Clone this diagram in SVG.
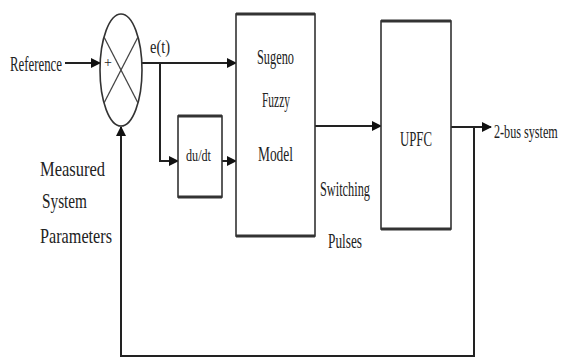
<svg xmlns="http://www.w3.org/2000/svg" width="564" height="360" viewBox="0 0 564 360">
<style>
.ln{stroke:#222;stroke-width:2;fill:none}
.bx{stroke:#333;stroke-width:1.6;fill:#fff}
.edge{stroke:#333;stroke-width:3}
text{font-family:"Liberation Serif","Times New Roman",serif;fill:#222}
</style>
<defs>
<marker id="ah" viewBox="0 0 10 10" refX="9" refY="5" markerWidth="5" markerHeight="5" orient="auto" markerUnits="strokeWidth">
<path d="M0,0 L10,5 L0,10 z" fill="#111"/>
</marker>
</defs>
<rect width="564" height="360" fill="#fff"/>
<g id="connectors">
<line class="ln" x1="65" y1="63" x2="100" y2="63" marker-end="url(#ah)"/>
<line class="ln" x1="142" y1="63" x2="236" y2="63" marker-end="url(#ah)"/>
<polyline class="ln" points="160,63 160,161 178,161" marker-end="url(#ah)"/>
<line class="ln" x1="222" y1="161" x2="236" y2="161" marker-end="url(#ah)"/>
<line class="ln" x1="315" y1="126" x2="381" y2="126" marker-end="url(#ah)"/>
<line class="ln" x1="451" y1="127" x2="491" y2="127" marker-end="url(#ah)"/>
<polyline class="ln" points="474,127 474,356 121,356 121,127" marker-end="url(#ah)"/>
</g>
<g id="reference"><text x="10" y="71" font-size="20" textLength="52" lengthAdjust="spacingAndGlyphs">Reference</text></g>
<g id="summer">
<ellipse cx="121" cy="70" rx="21" ry="56" fill="#fff" stroke="#333" stroke-width="1.6"/>
<line x1="104" y1="37" x2="138" y2="103" stroke="#444" stroke-width="1.3"/>
<line x1="138" y1="37" x2="104" y2="103" stroke="#444" stroke-width="1.3"/>
<text x="104" y="67" font-size="14">+</text>
</g>
<g id="et"><text x="150" y="53" font-size="19" textLength="20" lengthAdjust="spacingAndGlyphs">e(t)</text></g>
<g id="dudt">
<rect class="bx" x="178" y="116" width="44" height="81"/>
<line class="edge" x1="178" y1="116" x2="222" y2="116"/>
<line class="edge" x1="178" y1="197" x2="222" y2="197"/>
<text x="186" y="161" font-size="17" textLength="25" lengthAdjust="spacingAndGlyphs">du/dt</text>
</g>
<g id="sugeno">
<rect class="bx" x="236" y="14" width="79" height="222"/>
<line class="edge" x1="236" y1="14" x2="315" y2="14"/>
<line class="edge" x1="236" y1="236" x2="315" y2="236"/>
<text x="257" y="64" font-size="21" textLength="37" lengthAdjust="spacingAndGlyphs">Sugeno</text>
<text x="262" y="107" font-size="21" textLength="28" lengthAdjust="spacingAndGlyphs">Fuzzy</text>
<text x="258" y="161" font-size="21" textLength="35" lengthAdjust="spacingAndGlyphs">Model</text>
</g>
<g id="upfc">
<rect class="bx" x="381" y="21" width="70" height="208"/>
<line class="edge" x1="381" y1="21" x2="451" y2="21"/>
<line class="edge" x1="381" y1="229" x2="451" y2="229"/>
<text x="400" y="146" font-size="20" textLength="32" lengthAdjust="spacingAndGlyphs">UPFC</text>
</g>
<g id="output"><text transform="translate(494,138) scale(0.64,1)" x="0" y="0" font-size="19">2-bus system</text></g>
<g id="switching">
<text x="320" y="196" font-size="22" textLength="50" lengthAdjust="spacingAndGlyphs">Switching</text>
<text x="328" y="248" font-size="22" textLength="34" lengthAdjust="spacingAndGlyphs">Pulses</text>
</g>
<g id="measured">
<text x="40" y="176" font-size="22" textLength="65" lengthAdjust="spacingAndGlyphs">Measured</text>
<text x="42" y="208" font-size="22" textLength="45" lengthAdjust="spacingAndGlyphs">System</text>
<text x="40" y="243" font-size="22" textLength="72" lengthAdjust="spacingAndGlyphs">Parameters</text>
</g>
</svg>
